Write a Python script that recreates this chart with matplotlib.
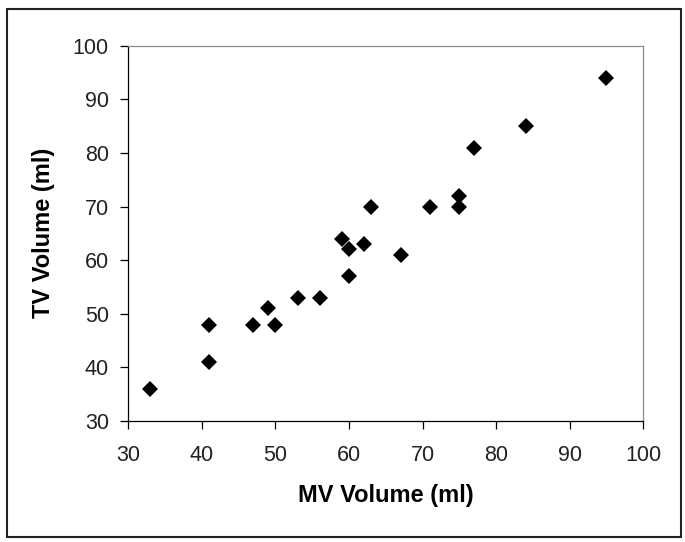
import matplotlib
matplotlib.use('Agg')
import matplotlib.pyplot as plt
from matplotlib.patches import Rectangle

# MV vs TV volumes (ml)
mv_volume = [33, 41, 41, 47, 49, 50, 53, 56, 59, 60, 60, 62, 67, 63, 71, 75, 75, 77, 84, 95]
tv_volume = [36, 48, 41, 48, 51, 48, 53, 53, 64, 62, 57, 63, 61, 70, 70, 70, 72, 81, 85, 94]

x_ticks = [30, 40, 50, 60, 70, 80, 90, 100]
y_ticks = [30, 40, 50, 60, 70, 80, 90, 100]

plt.rcParams['font.family'] = ['Liberation Sans', 'DejaVu Sans']

fig = plt.figure(figsize=(6.85, 5.42), dpi=100)
ax = fig.add_axes([0.1873, 0.2232, 0.7518, 0.6925])

ax.plot(mv_volume, tv_volume, linestyle='none', marker='D', markersize=7.8,
        color='black', markeredgewidth=0)

ax.set_xlim(30, 100)
ax.set_ylim(30, 100)
ax.set_xticks(x_ticks)
ax.set_yticks(y_ticks)

ax.tick_params(axis='both', direction='out', length=6, width=0.9, colors='black',
               labelsize=15.5, labelcolor='#222222')
ax.tick_params(axis='x', pad=11)
ax.tick_params(axis='y', pad=8)

for s in ['left', 'bottom']:
    ax.spines[s].set_color('black')
    ax.spines[s].set_linewidth(0.9)
for s in ['top', 'right']:
    ax.spines[s].set_color('#8c8c8c')
    ax.spines[s].set_linewidth(0.9)

ax.set_xlabel('MV Volume (ml)', fontsize=17, fontweight='bold', labelpad=13)
ax.set_ylabel('TV Volume (ml)', fontsize=17, fontweight='bold', labelpad=13)

# outer chart-area border
fig.patches.append(Rectangle((0.0102, 0.0092), 0.984, 0.974, transform=fig.transFigure,
                             fill=False, edgecolor='#222222', linewidth=1.5))

fig.savefig('out.png', dpi=100)
